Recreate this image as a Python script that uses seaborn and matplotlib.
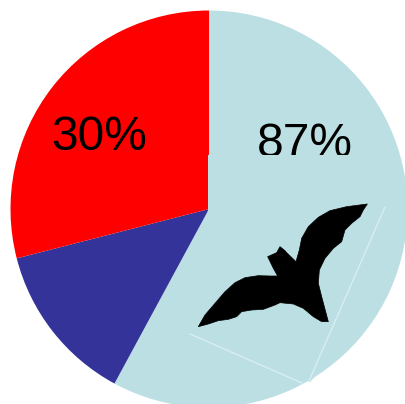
import matplotlib
matplotlib.use("Agg")
import matplotlib.pyplot as plt
import seaborn as sns
from matplotlib.patches import Polygon

sns.set_theme(style="white")
plt.rcParams['font.family'] = ['Liberation Sans', 'DejaVu Sans']

# Slice shares (clockwise from the top)
slice_names = ["light", "navy", "red"]
slice_values = [57.9, 13.1, 29.0]
slice_colors = ["#BBDFE3", "#333399", "#FF0000"]
labels = ["87%", "30%"]

W, H = 405, 404
fig = plt.figure(figsize=(W / 100, H / 100), dpi=100)
ax = fig.add_axes([0, 0, 1, 1])
palette = sns.color_palette(slice_colors)


def px(x, y):
    return x, H - y


ax.pie(slice_values, colors=palette, startangle=90, counterclock=False,
       center=px(209, 209), radius=198.5, frame=False,
       wedgeprops=dict(linewidth=0))
ax.set_xlim(0, W)
ax.set_ylim(0, H)
ax.set_aspect("equal")
ax.axis("off")

# Percent labels
ax.text(*px(99.5, 150.5), labels[1], fontsize=34.5, color="black", ha="center",
        va="baseline", zorder=3)
ax.text(*px(304.5, 157), labels[0], fontsize=34.5, color="black", ha="center",
        va="baseline", zorder=3)

# Pasted picture panel: hides the foot of the 87% label
ax.add_patch(Polygon([px(208, 155), px(385, 155), px(385, 300), px(310, 382),
                      px(190, 335), px(208, 210)],
                     closed=True, facecolor=slice_colors[0], edgecolor="none", zorder=4))

# Faint panel edges
for (x0, y0), (x1, y1) in [((190, 334), (302, 383)), ((385, 207), (309, 381))]:
    ax.plot(*zip(px(x0, y0), px(x1, y1)), color="#D8EEF0", lw=1.0, zorder=5)

left_crop = [(10, 380), (30, 345), (60, 310), (90, 275), (120, 248), (150, 233),
             (190, 227), (225, 228), (248, 228), (235, 205), (218, 170), (245, 158),
             (255, 140), (270, 152)]
right_crop = [(20, 158), (48, 185), (58, 150), (65, 115), (85, 80), (115, 52), (150, 32),
              (200, 20), (262, 12), (250, 30), (240, 50), (215, 70), (195, 90), (185, 125),
              (160, 145), (135, 175), (118, 210), (115, 250), (125, 290), (145, 365),
              (125, 365), (100, 350), (70, 325), (40, 312), (0, 308)]
left_lower = [(240, 315), (205, 328), (170, 330), (140, 335), (125, 350), (100, 358),
              (70, 362), (40, 372)]
bat_px = ([(195 + x / 3, 200 + y / 3) for x, y in left_crop]
          + [(280 + x / 3, 200 + y / 3) for x, y in right_crop]
          + [(195 + x / 3, 200 + y / 3) for x, y in left_lower])
ax.add_patch(Polygon([px(x, y) for x, y in bat_px], closed=True, facecolor="black",
                     edgecolor="black", lw=0.5, joinstyle="round", zorder=6))

fig.savefig("out.png", dpi=100, facecolor="white")
